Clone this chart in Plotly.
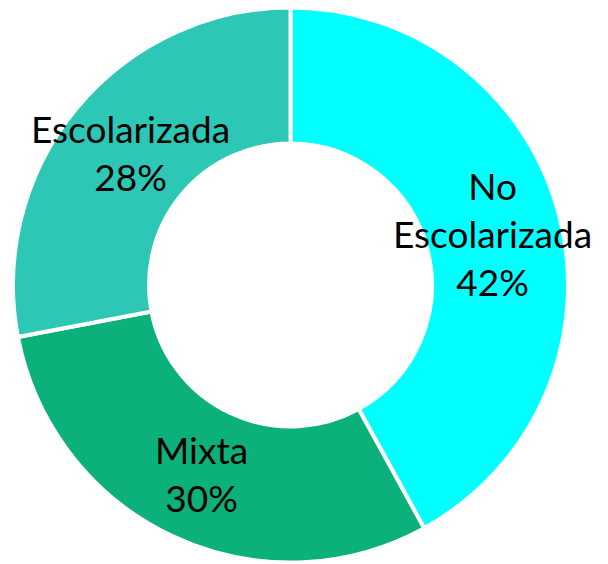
import math
import plotly.graph_objects as go

labels = ["No<br>Escolarizada", "Mixta", "Escolarizada"]
values = [42, 30, 28]
colors = ["#00FFFF", "#0CB07B", "#2CC8B5"]

W, H = 608, 564
margin = dict(l=13, r=40, t=7, b=1)
hole = 0.51
label_frac = 0.75  # label radius as a fraction of the outer radius

fig = go.Figure(go.Pie(
    labels=labels,
    values=values,
    hole=hole,
    sort=False,
    direction="clockwise",
    rotation=0,
    marker=dict(colors=colors, line=dict(color="white", width=4)),
    textinfo="none",
    showlegend=False,
    hoverinfo="label+percent",
))

# place labels at the mid-angle of each slice, computed from the values
pw = W - margin["l"] - margin["r"]
ph = H - margin["t"] - margin["b"]
r_px = min(pw, ph) / 2 * label_frac
total = sum(values)
cum = 0
annotations = []
for lab, v in zip(labels, values):
    mid = (cum + v / 2) / total * 2 * math.pi
    cum += v
    x = 0.5 + r_px * math.sin(mid) / pw
    y = 0.5 + r_px * math.cos(mid) / ph
    pct = round(v / total * 100)
    annotations.append(dict(
        x=x, y=y, xref="paper", yref="paper",
        text=f"{lab}<br>{pct}%", showarrow=False,
        xanchor="center", yanchor="middle", align="center",
        font=dict(family="Lato, Open Sans, sans-serif", size=37, color="black"),
    ))

fig.update_layout(
    width=W, height=H,
    margin=margin,
    paper_bgcolor="white",
    plot_bgcolor="white",
    annotations=annotations,
)
fig.write_html("out.html", config={"displayModeBar": False},
               post_script="document.body.style.margin='0';")
